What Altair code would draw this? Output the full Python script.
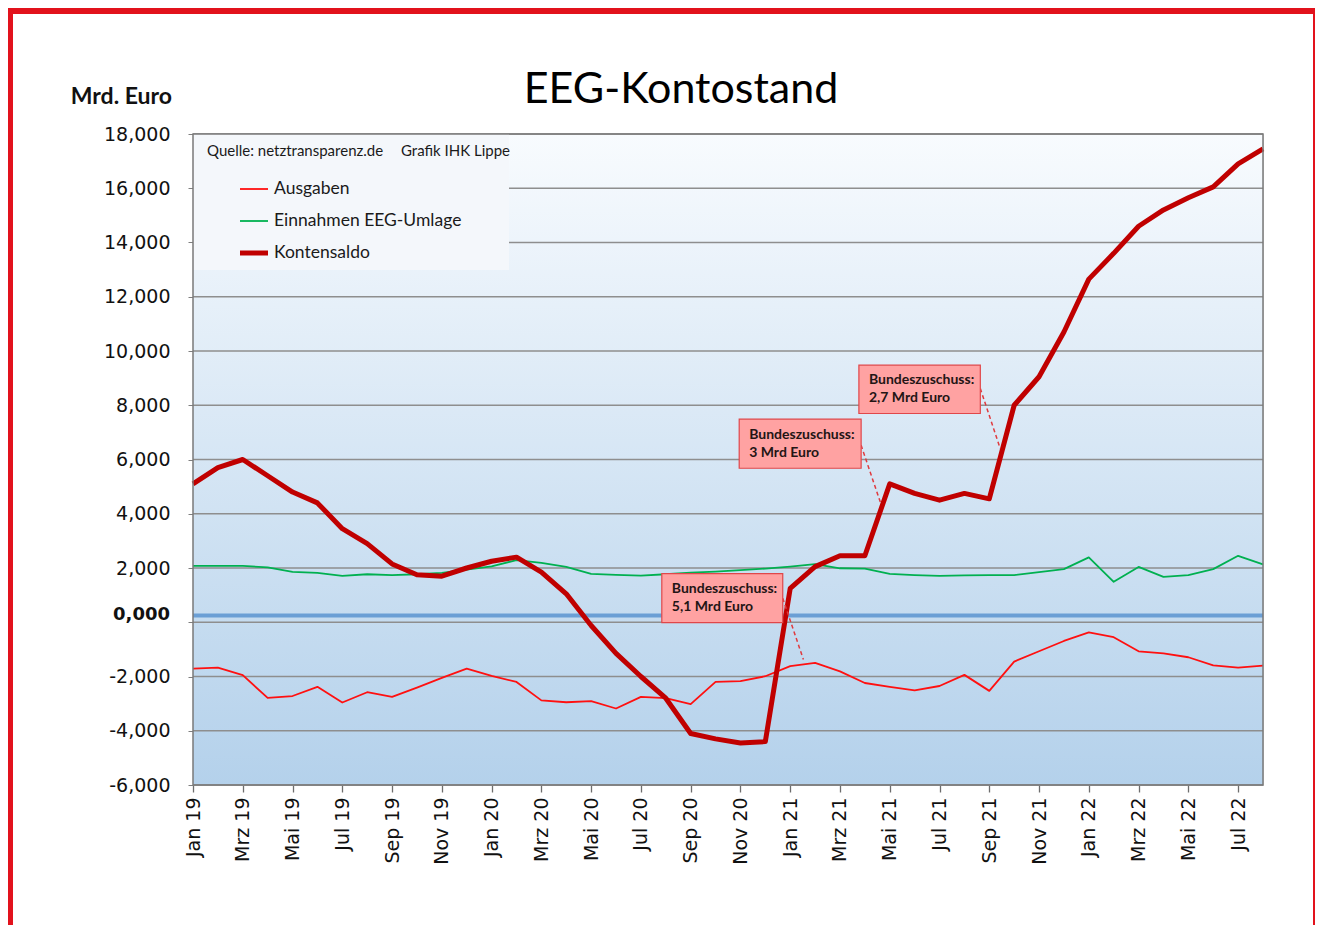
import json
import altair as alt
import pandas as pd

# ---------------- data ----------------
monate = ["Jan 19", "Feb 19", "Mrz 19", "Apr 19", "Mai 19", "Jun 19", "Jul 19", "Aug 19",
          "Sep 19", "Okt 19", "Nov 19", "Dez 19",
          "Jan 20", "Feb 20", "Mrz 20", "Apr 20", "Mai 20", "Jun 20", "Jul 20", "Aug 20",
          "Sep 20", "Okt 20", "Nov 20", "Dez 20",
          "Jan 21", "Feb 21", "Mrz 21", "Apr 21", "Mai 21", "Jun 21", "Jul 21", "Aug 21",
          "Sep 21", "Okt 21", "Nov 21", "Dez 21",
          "Jan 22", "Feb 22", "Mrz 22", "Apr 22", "Mai 22", "Jun 22", "Jul 22", "Aug 22"]

ausgaben = [-1710, -1670, -1950, -2790, -2720, -2380, -2960, -2580, -2750, -2410, -2050, -1710,
            -1980, -2200, -2880, -2950, -2910, -3180, -2750, -2800, -3020, -2200, -2170, -1990,
            -1620, -1500, -1810, -2240, -2380, -2510, -2350, -1940, -2530, -1450, -1070, -690,
            -370, -550, -1070, -1150, -1290, -1590, -1670, -1600]

einnahmen = [2080, 2080, 2080, 2020, 1860, 1820, 1710, 1770, 1740, 1770, 1820, 1940,
             2060, 2290, 2190, 2040, 1780, 1750, 1720, 1770, 1830, 1870, 1920, 1980,
             2050, 2140, 1990, 1980, 1780, 1740, 1710, 1730, 1740, 1740, 1850, 1960,
             2390, 1490, 2040, 1670, 1740, 1960, 2450, 2130]

kontensaldo = [5100, 5700, 6000, 5400, 4800, 4400, 3450, 2900, 2150, 1750, 1700, 2000,
               2250, 2400, 1850, 1050, -120, -1150, -2000, -2800, -4100, -4300, -4450, -4400,
               1250, 2050, 2450, 2450, 5100, 4750, 4500, 4750, 4550, 8000, 9050, 10700,
               12650, 13600, 14600, 15200, 15650, 16050, 16900, 17450]

serien = ["Ausgaben", "Einnahmen EEG-Umlage", "Kontensaldo"]
farben = ["#FF1010", "#00B050", "#C00000"]
breiten = [1.8, 1.8, 5]

y_ticks = [-6000, -4000, -2000, 0, 2000, 4000, 6000, 8000, 10000, 12000, 14000, 16000, 18000]
y_labels = ["-6,000", "-4,000", "-2,000", "", "2,000", "4,000", "6,000", "8,000",
            "10,000", "12,000", "14,000", "16,000", "18,000"]
null_label = "0,000"
nulllinie = 250          # position of the blue base line
x_ticks = list(range(0, 44, 2))

anno_text = ["Bundeszuschuss:\n5,1 Mrd Euro", "Bundeszuschuss:\n3 Mrd Euro",
             "Bundeszuschuss:\n2,7 Mrd Euro"]
anno_x1 = [18.84, 21.95, 26.76]
anno_x2 = [23.70, 26.85, 31.64]
anno_y1 = [1796, 7485, 9476]
anno_y2 = [-11, 5678, 7695]
pfeil_x1 = [23.70, 26.85, 31.64]
pfeil_y1 = [885, 6526, 8617]
pfeil_x2 = [24.53, 27.64, 32.44]
pfeil_y2 = [-1375, 4377, 6404]

titel = "EEG-Kontostand"
einheit = "Mrd. Euro"
quelle = "Quelle: netztransparenz.de"
grafik = "Grafik IHK Lippe"

# ---------------- build ----------------
W, H = 1070, 651
PL, PT, PR, PB = 185, 126, 52, 140

rows = []
for i, m in enumerate(monate):
    for s, vals in zip(serien, [ausgaben, einnahmen, kontensaldo]):
        rows.append({"i": i, "monat": m, "serie": s, "wert": vals[i]})
df = pd.DataFrame(rows)

anno = pd.DataFrame({"text": anno_text, "x1": anno_x1, "x2": anno_x2,
                     "y1": anno_y1, "y2": anno_y2,
                     "px1": pfeil_x1, "py1": pfeil_y1, "px2": pfeil_x2, "py2": pfeil_y2})
anno["ymid"] = (anno["y1"] + anno["y2"]) / 2

xscale = alt.Scale(domain=[0, len(monate) - 1], nice=False, zero=False)
yscale = alt.Scale(domain=[y_ticks[0], y_ticks[-1]], nice=False, zero=False)

x_axis = alt.Axis(values=x_ticks, labelExpr=json.dumps(monate) + "[datum.value]",
                  labelAngle=-90, labelAlign="right", labelBaseline="middle",
                  labelFont="DejaVu Sans", labelFontSize=19, labelColor="#111111",
                  labelPadding=5, tickSize=7, tickColor="#6E6E6E", tickWidth=1.3,
                  domain=False, grid=False, labelOverlap=False)
y_axis = alt.Axis(values=y_ticks,
                  labelExpr=json.dumps(y_labels) + "[(datum.value - (" + str(y_ticks[0]) + ")) / 2000]",
                  labelFont="DejaVu Sans", labelFontSize=19, labelColor="#111111",
                  labelPadding=18, tickSize=5, tickColor="#7F7F7F",
                  domain=False, grid=False, labelOverlap=False)

one = pd.DataFrame({"a": [0]})

bg = alt.Chart(one).mark_rect(
    color=alt.Gradient(gradient="linear",
                       stops=[alt.GradientStop(color="#F8FBFE", offset=0),
                              alt.GradientStop(color="#B4D1EB", offset=1)],
                       x1=0, x2=0, y1=0, y2=1)
).encode(x=alt.value(0), x2=alt.value(W), y=alt.value(0), y2=alt.value(H))

grid = alt.Chart(pd.DataFrame({"y": y_ticks})).mark_rule(color="#8E8E8E", strokeWidth=1.3).encode(
    y=alt.Y("y:Q", scale=yscale, title=None), x=alt.value(0), x2=alt.value(W))

legbg = alt.Chart(one).mark_rect(color="#F4F7FB").encode(
    x=alt.value(0), x2=alt.value(316), y=alt.value(0), y2=alt.value(136))

base = alt.Chart(pd.DataFrame({"y": [nulllinie]})).mark_rule(color="#6B9FD5", strokeWidth=4).encode(
    y=alt.Y("y:Q", scale=yscale, title=None), x=alt.value(0), x2=alt.value(W))

null_txt = alt.Chart(pd.DataFrame({"y": [nulllinie], "t": [null_label]})).mark_text(
    align="right", baseline="middle", font="DejaVu Sans", fontSize=18, fontWeight="bold",
    color="#111111").encode(y=alt.Y("y:Q", scale=yscale, title=None), x=alt.value(-23), text="t:N")

line_layers = []
for k, (s, c, w) in enumerate(zip(serien, farben, breiten)):
    enc = dict(
        x=alt.X("i:Q", scale=xscale, title=None, axis=x_axis if k == 0 else alt.Undefined),
        y=alt.Y("wert:Q", scale=yscale, title=None, axis=y_axis if k == 0 else alt.Undefined),
    )
    line_layers.append(
        alt.Chart(df).transform_filter(alt.datum.serie == s)
        .mark_line(color=c, strokeWidth=w, strokeJoin="round").encode(**enc)
    )

# legend (manual, drawn from the series lists)
leg_layers = []
for k, (s, c, w) in enumerate(zip(serien, farben, breiten)):
    ypix = 55 + 32 * k
    leg_layers.append(alt.Chart(one).mark_rule(color=c, strokeWidth=w).encode(
        x=alt.value(47), x2=alt.value(75), y=alt.value(ypix)))
    leg_layers.append(alt.Chart(one).mark_text(text=s, align="left", baseline="middle", font="Lato",
                                               fontSize=17.5, color="#1A1A1A").encode(
        x=alt.value(81), y=alt.value(ypix)))

dash = alt.Chart(anno).mark_rule(strokeDash=[4, 3], color="#E03A3E", strokeWidth=1.5).encode(
    x=alt.X("px1:Q", scale=xscale, title=None), y=alt.Y("py1:Q", scale=yscale, title=None),
    x2="px2:Q", y2="py2:Q")

boxes = alt.Chart(anno).mark_rect(fill="#FFA2A2", stroke="#E0474A", strokeWidth=1.2).encode(
    x=alt.X("x1:Q", scale=xscale, title=None), x2="x2:Q",
    y=alt.Y("y1:Q", scale=yscale, title=None), y2="y2:Q")

btext = alt.Chart(anno).mark_text(align="left", baseline="middle", dx=10, dy=-9, lineBreak="\n",
                                  lineHeight=18, font="Lato", fontSize=14, fontWeight="bold",
                                  color="#231515").encode(
    x=alt.X("x1:Q", scale=xscale, title=None), y=alt.Y("ymid:Q", scale=yscale, title=None),
    text="text:N")

border = alt.Chart(one).mark_rect(filled=False, stroke="#7A7A7A", strokeWidth=1.5).encode(
    x=alt.value(0), x2=alt.value(W), y=alt.value(0), y2=alt.value(H))

src1 = alt.Chart(one).mark_text(text=quelle, align="left", baseline="middle", font="Lato",
                                fontSize=15, color="#1A1A1A").encode(x=alt.value(14), y=alt.value(17))
src2 = alt.Chart(one).mark_text(text=grafik, align="left", baseline="middle", font="Lato",
                                fontSize=15, color="#1A1A1A").encode(x=alt.value(208), y=alt.value(17))

title_t = alt.Chart(one).mark_text(text=titel, align="center", baseline="middle", font="Lato",
                                   fontSize=43, color="#000000").encode(x=alt.value(488), y=alt.value(-44))
unit_t = alt.Chart(one).mark_text(text=einheit, align="right", baseline="middle", font="Lato",
                                  fontSize=23, fontWeight="bold", color="#111111").encode(
    x=alt.value(-21), y=alt.value(-37))

frame_col = "#E2121C"
f_top = alt.Chart(one).mark_rect(color=frame_col).encode(
    x=alt.value(-PL), x2=alt.value(W + PR), y=alt.value(-PT), y2=alt.value(-PT + 6))
f_left = alt.Chart(one).mark_rect(color=frame_col).encode(
    x=alt.value(-PL), x2=alt.value(-PL + 5), y=alt.value(-PT), y2=alt.value(H + PB))
f_right = alt.Chart(one).mark_rect(color=frame_col).encode(
    x=alt.value(W + PR - 2), x2=alt.value(W + PR), y=alt.value(-PT), y2=alt.value(H + PB))

chart = alt.layer(
    bg, grid, legbg, base, *line_layers, dash, boxes, btext, border, *leg_layers,
    src1, src2, null_txt, title_t, unit_t, f_top, f_left, f_right
).properties(
    width=W, height=H,
    autosize=alt.AutoSizeParams(type="none"),
    padding={"left": PL, "top": PT, "right": PR, "bottom": PB},
).configure_view(stroke=None).configure(background="#FFFFFF")

chart.save("out.html", embed_options={"renderer": "svg", "actions": False})
